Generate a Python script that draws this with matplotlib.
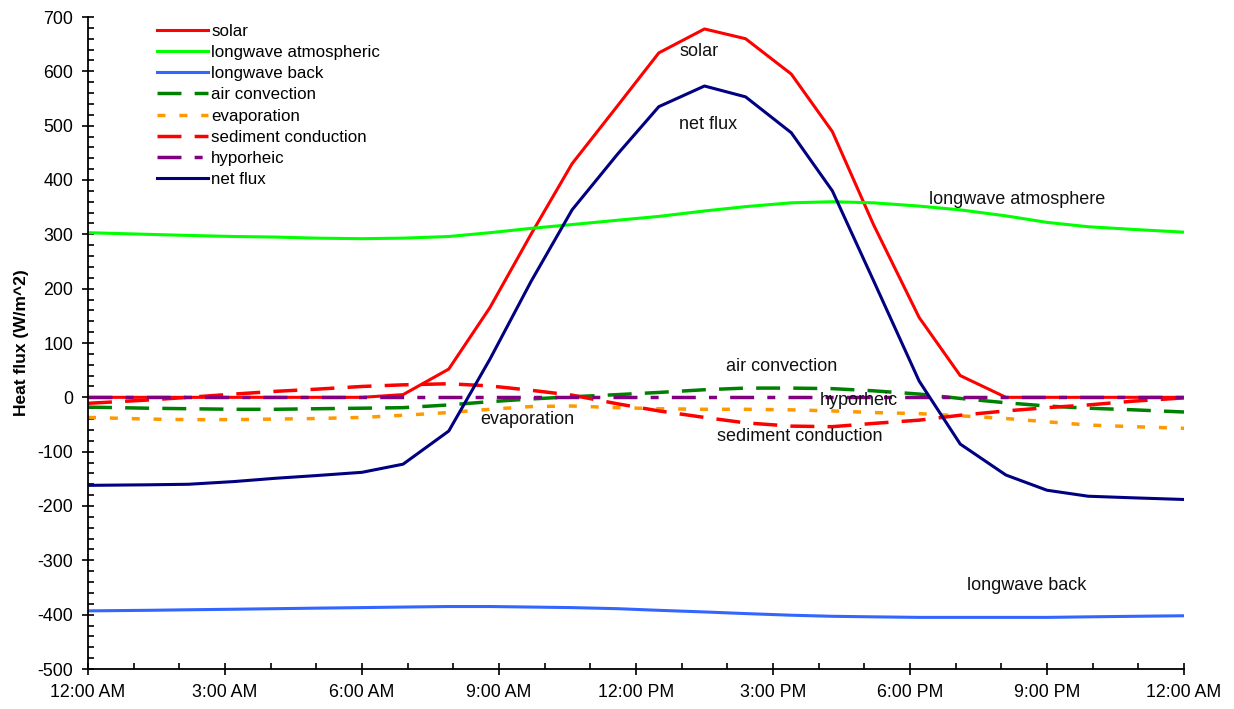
import matplotlib
matplotlib.use("Agg")
import matplotlib.pyplot as plt
from matplotlib.ticker import MultipleLocator

plt.rcParams['font.family'] = ['Liberation Sans', 'DejaVu Sans']
plt.rcParams['axes.unicode_minus'] = False

# Hora do dia (h) de cada amostra
hours = [0, 1.3, 2.2, 3.2, 4.1, 5.0, 6.0, 6.9, 7.9, 8.8, 9.7, 10.6, 11.6, 12.5,
         13.5, 14.4, 15.4, 16.3, 17.2, 18.2, 19.1, 20.1, 21.0, 21.9, 22.9, 24.0]

solar = [0, 0, 0, 0, 0, 0, 0, 5, 52, 165, 300, 430, 537, 634,
         678, 660, 595, 489, 318, 147, 40, 0, 0, 0, 0, 0]
longwave_atm = [303, 300, 298, 296, 295, 293, 292, 293, 296, 303, 311, 318, 326, 333,
                343, 351, 358, 360, 358, 352, 345, 334, 322, 314, 309, 304]
longwave_back = [-393, -392, -391, -390, -389, -388, -387, -386, -385, -385, -386, -387, -389, -392,
                 -395, -398, -401, -403, -404, -405, -405, -405, -405, -404, -403, -402]
air_convection = [-18, -20, -21, -22, -22, -21, -20, -19, -14, -8, -3, 1, 5, 9,
                  14, 17, 17, 16, 12, 6, -2, -10, -16, -20, -23, -27]
evaporation = [-37, -40, -41, -41, -40, -39, -37, -33, -28, -22, -17, -16, -19, -21,
               -22, -22, -23, -25, -28, -30, -34, -39, -45, -51, -54, -57]
sediment = [-11, -5, 0, 6, 11, 15, 20, 23, 25, 21, 13, 4, -12, -25,
            -37, -47, -53, -54, -48, -42, -33, -25, -19, -14, -7, -1]
hyporheic = [0, 0, 0, 0, 0, 0, 0, 0, 0, 0, 0, 0, 0, 0,
             0, 0, 0, 0, 0, 0, 0, 0, 0, 0, 0, 0]
net_flux = [-162, -161, -160, -155, -149, -144, -138, -123, -62, 70, 213, 345, 448, 535,
            573, 553, 487, 380, 215, 30, -86, -143, -171, -182, -185, -188]

tick_hours = [0, 3, 6, 9, 12, 15, 18, 21, 24]
tick_labels = ["12:00 AM", "3:00 AM", "6:00 AM", "9:00 AM", "12:00 PM",
               "3:00 PM", "6:00 PM", "9:00 PM", "12:00 AM"]

# Rótulos dentro do gráfico: (texto, hora, valor)
labels_in_plot = [
    ("solar", 12.95, 636),
    ("net flux", 12.95, 502),
    ("longwave atmosphere", 18.42, 364),
    ("air convection", 13.97, 57),
    ("hyporheic", 16.03, -5),
    ("evaporation", 8.58, -40),
    ("sediment conduction", 13.77, -72),
    ("longwave back", 19.25, -347),
]

fig = plt.figure(figsize=(12.34, 7.09), dpi=100)
ax = fig.add_axes([88/1234, 1 - 669/709, 1096/1234, 652/709])

lw_solid = 2.2
lw_dash = 2.5
ax.plot(hours, solar, color='#FF0000', lw=lw_solid, label='solar')
ax.plot(hours, longwave_atm, color='#00FF00', lw=lw_solid, label='longwave atmospheric')
ax.plot(hours, longwave_back, color='#3366FF', lw=lw_solid, label='longwave back')
ax.plot(hours, air_convection, color='#008000', lw=lw_dash,
        linestyle=(0, (6.9, 3.8)), label='air convection')
ax.plot(hours, evaporation, color='#FF9900', lw=lw_dash,
        linestyle=(0, (2.3, 4.0)), label='evaporation')
ax.plot(hours, sediment, color='#FF0000', lw=lw_dash,
        linestyle=(0, (6.9, 3.8)), label='sediment conduction')
ax.plot(hours, hyporheic, color='#800080', lw=lw_dash,
        linestyle=(0, (6.9, 3.8, 2.3, 3.8)), label='hyporheic')
ax.plot(hours, net_flux, color='#000080', lw=lw_solid, label='net flux')

for txt, hx, yv in labels_in_plot:
    ax.text(hx, yv, txt, fontsize=13, ha='left', va='center', color='#111111')

ax.set_xlim(0, 24)
ax.set_ylim(-500, 700)
ax.set_xticks(tick_hours)
ax.set_xticklabels(tick_labels)
ax.xaxis.set_minor_locator(MultipleLocator(1))
ax.yaxis.set_major_locator(MultipleLocator(100))
ax.yaxis.set_minor_locator(MultipleLocator(20))

ax.tick_params(axis='both', which='major', direction='inout', length=8,
               width=1.2, labelsize=12.8, pad=6.5)
ax.tick_params(axis='both', which='minor', direction='in', length=4, width=1.2)
ax.tick_params(axis='x', which='major', pad=7)

for s in ['top', 'right']:
    ax.spines[s].set_visible(False)
for s in ['left', 'bottom']:
    ax.spines[s].set_linewidth(1.3)

ax.set_ylabel("Heat flux (W/m^2)", fontsize=12.5, fontweight='bold', labelpad=6)

ax.legend(loc='upper left', bbox_to_anchor=(0.063, 0.99), frameon=False,
          fontsize=12.2, handlelength=3.0, handletextpad=0.2, labelspacing=0.37,
          borderpad=0, borderaxespad=0)

plt.savefig("out.png", dpi=100)
plt.close()
